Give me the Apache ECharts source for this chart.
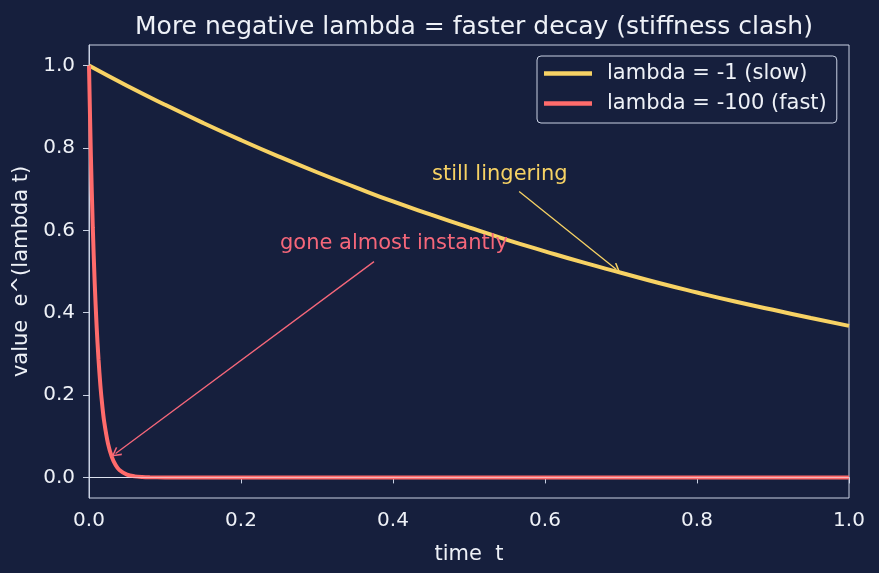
<!DOCTYPE html>
<html>
<head>
<meta charset="utf-8">
<script src="https://cdn.jsdelivr.net/npm/echarts@6/dist/echarts.min.js"></script>
<style>
  html, body { margin: 0; padding: 0; background: #161f3d; }
  #chart { width: 879px; height: 573px; }
</style>
</head>
<body>
<div id="chart"></div>
<script>
// time samples and values
var slowT = [0, 0.05, 0.1, 0.15, 0.2, 0.25, 0.3, 0.35, 0.4, 0.45, 0.5, 0.55, 0.6, 0.65, 0.7, 0.75, 0.8, 0.85, 0.9, 0.95, 1.0];
var slowY = [1.0, 0.951, 0.905, 0.861, 0.819, 0.779, 0.741, 0.705, 0.670, 0.638, 0.607, 0.577, 0.549, 0.522, 0.497, 0.472, 0.449, 0.427, 0.407, 0.387, 0.368];

var fastT = [0, 0.0025, 0.005, 0.0075, 0.01, 0.0125, 0.015, 0.0175, 0.02, 0.025, 0.03, 0.035, 0.04, 0.05, 0.06, 0.07, 0.08, 0.1, 0.2, 0.4, 0.6, 0.8, 1.0];
var fastY = [1.0, 0.779, 0.607, 0.472, 0.368, 0.287, 0.223, 0.174, 0.135, 0.082, 0.050, 0.030, 0.018, 0.0067, 0.0025, 0.0009, 0.0003, 0, 0, 0, 0, 0, 0];

var yTicks = [0, 0.2, 0.4, 0.6, 0.8, 1.0];

var yellow = '#f7d264';
var red = '#ff6b6b';
var redText = '#f5677a';
var fg = '#eef1f7';
var spine = '#c9d1e3';
// open "->" arrow head
var openHead = 'path://M0,0 L10,12 L7.6,13.4 L0,4 L-7.6,13.4 L-10,12 Z';

function pairs(xs, ys) {
  return xs.map(function (x, i) { return [x, ys[i]]; });
}

var myChart = echarts.init(document.getElementById('chart'));
myChart.setOption({
  backgroundColor: '#161f3d',
  animation: false,
  textStyle: { fontFamily: 'DejaVu Sans' },
  title: {
    text: 'More negative lambda = faster decay (stiffness clash)',
    left: 469, top: 10, textAlign: 'center',
    textStyle: { color: fg, fontSize: 25, fontWeight: 'normal', fontFamily: 'DejaVu Sans' }
  },
  grid: {
    left: 89, right: 30, top: 45, bottom: 75,
    show: true, borderColor: spine, borderWidth: 1
  },
  legend: {
    orient: 'vertical', left: 537, top: 56,
    padding: [7, 10, 9, 7], itemGap: 9,
    itemWidth: 48, itemHeight: 4.5, icon: 'rect',
    borderColor: spine, borderWidth: 1, borderRadius: 4,
    textStyle: { color: fg, fontSize: 21, fontFamily: 'DejaVu Sans', padding: [0, 0, 0, 10] },
    data: ['lambda = -1 (slow)', 'lambda = -100 (fast)']
  },
  xAxis: {
    type: 'value', min: 0, max: 1, interval: 0.2,
    name: 'time  t', nameLocation: 'middle', nameGap: 46,
    nameTextStyle: { color: fg, fontSize: 21 },
    axisLine: { show: true, lineStyle: { color: spine } },
    axisTick: { show: true, length: 6, lineStyle: { color: spine } },
    axisLabel: { color: fg, fontSize: 20, margin: 13, formatter: function (v) { return v.toFixed(1); } },
    splitLine: { show: false }
  },
  yAxis: {
    type: 'value', min: -0.05, max: 1.05,
    name: 'value  e^(lambda t)', nameLocation: 'middle', nameGap: 56,
    nameTextStyle: { color: fg, fontSize: 21 },
    axisLine: { show: true, lineStyle: { color: spine } },
    axisTick: { show: true, length: 6, lineStyle: { color: spine }, customValues: yTicks },
    axisLabel: { color: fg, fontSize: 20, margin: 14, customValues: yTicks, formatter: function (v) { return v.toFixed(1); } },
    splitLine: { show: false }
  },
  series: [
    {
      name: 'lambda = -1 (slow)', type: 'line', smooth: true,
      data: pairs(slowT, slowY), showSymbol: false,
      lineStyle: { color: yellow, width: 4 }, itemStyle: { color: yellow },
      markLine: {
        silent: true, symbol: ['none', openHead], symbolSize: [10, 10],
        lineStyle: { color: yellow, width: 1.3, type: 'solid' },
        label: { show: false },
        data: [[{ coord: [0.566, 0.694] }, { coord: [0.694, 0.505] }]]
      },
      markPoint: {
        silent: true, symbol: 'circle', symbolSize: 0,
        data: [{
          coord: [0.45, 0.72],
          label: { show: true, formatter: 'still lingering', position: 'right', offset: [-4, -6], color: yellow, fontSize: 21 }
        }]
      }
    },
    {
      name: 'lambda = -100 (fast)', type: 'line',
      data: pairs(fastT, fastY), showSymbol: false, smooth: 0.3,
      lineStyle: { color: red, width: 4 }, itemStyle: { color: red },
      markLine: {
        silent: true, symbol: ['none', 'none'],
        label: { show: false },
        data: [
          { yAxis: 0, lineStyle: { color: 'rgba(235,240,250,0.55)', width: 1, type: 'solid' } },
          [{ coord: [0.375, 0.524], symbol: 'none', lineStyle: { color: redText, width: 1.3, type: 'solid' } },
           { coord: [0.035, 0.058], symbol: openHead, symbolSize: [10, 10] }]
        ]
      },
      markPoint: {
        silent: true, symbol: 'circle', symbolSize: 0,
        data: [{
          coord: [0.25, 0.55],
          label: { show: true, formatter: 'gone almost instantly', position: 'right', offset: [-4, -7], color: redText, fontSize: 21 }
        }]
      }
    }
  ]
});
</script>
</body>
</html>
